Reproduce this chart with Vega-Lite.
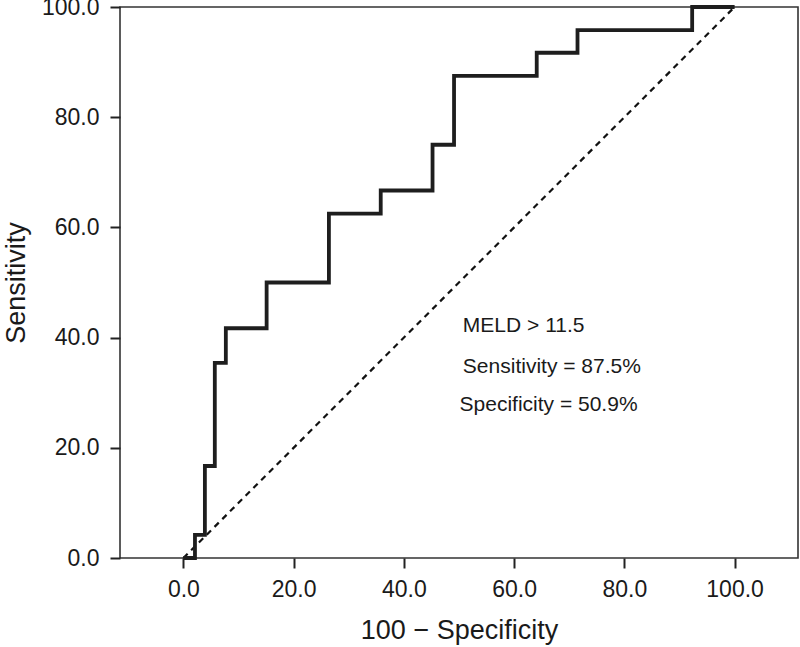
{
  "$schema": "https://vega.github.io/schema/vega-lite/v6.json",
  "autosize": {"type": "none"},
  "padding": {"left": 120, "top": 7, "right": 2, "bottom": 89},
  "width": 678,
  "height": 551,
  "background": "white",
  "config": {
    "font": "Liberation Sans",
    "view": {"stroke": "#333333", "strokeWidth": 1.6},
    "axis": {
      "grid": false,
      "domain": false,
      "ticks": true,
      "tickColor": "#222222",
      "tickWidth": 2,
      "tickSize": 10,
      "labelFont": "Liberation Sans",
      "labelFontSize": 23,
      "labelColor": "#1a1a1a",
      "titleFont": "Liberation Sans",
      "titleFontSize": 27,
      "titleFontWeight": "normal",
      "titleColor": "#1a1a1a"
    }
  },
  "datasets": {
    "roc": [
      {"fpr": 0, "tpr": 0},
      {"fpr": 2.1, "tpr": 4.2},
      {"fpr": 3.9, "tpr": 16.7},
      {"fpr": 5.7, "tpr": 35.4},
      {"fpr": 7.7, "tpr": 41.7},
      {"fpr": 15.1, "tpr": 50.0},
      {"fpr": 26.4, "tpr": 62.5},
      {"fpr": 35.8, "tpr": 66.7},
      {"fpr": 45.2, "tpr": 75.0},
      {"fpr": 49.1, "tpr": 87.5},
      {"fpr": 64.1, "tpr": 91.7},
      {"fpr": 71.5, "tpr": 95.8},
      {"fpr": 92.3, "tpr": 100},
      {"fpr": 100, "tpr": 100}
    ],
    "diag": [
      {"fpr": 0, "tpr": 0},
      {"fpr": 100, "tpr": 100}
    ],
    "notes": [
      {"label": "MELD > 11.5", "fpr": 50.7, "tpr": 41.1},
      {"label": "Sensitivity = 87.5%", "fpr": 50.7, "tpr": 33.6},
      {"label": "Specificity = 50.9%", "fpr": 50.1, "tpr": 26.6}
    ]
  },
  "layer": [
    {
      "data": {"name": "diag"},
      "mark": {"type": "line", "color": "#111111", "strokeWidth": 2.2, "strokeDash": [6, 5]},
      "encoding": {
        "x": {
          "field": "fpr", "type": "quantitative",
          "scale": {"domain": [-11.5, 111.5], "nice": false, "zero": false},
          "axis": {"values": [0, 20, 40, 60, 80, 100], "format": ".1f", "title": "100 − Specificity", "labelPadding": 10, "titlePadding": 16}
        },
        "y": {
          "field": "tpr", "type": "quantitative",
          "scale": {"domain": [0, 100], "nice": false},
          "axis": {"values": [0, 20, 40, 60, 80, 100], "format": ".1f", "title": "Sensitivity", "labelPadding": 11, "titlePadding": 11}
        }
      }
    },
    {
      "data": {"name": "roc"},
      "mark": {"type": "line", "interpolate": "step-after", "color": "#1e1e1e", "strokeWidth": 3.8, "strokeJoin": "miter", "strokeCap": "butt"},
      "encoding": {
        "x": {"field": "fpr", "type": "quantitative"},
        "y": {"field": "tpr", "type": "quantitative"}
      }
    },
    {
      "data": {"name": "notes"},
      "mark": {"type": "text", "align": "left", "baseline": "alphabetic", "fontSize": 21, "font": "Liberation Sans", "color": "#1a1a1a"},
      "encoding": {
        "x": {"field": "fpr", "type": "quantitative"},
        "y": {"field": "tpr", "type": "quantitative"},
        "text": {"field": "label", "type": "nominal"}
      }
    }
  ]
}
